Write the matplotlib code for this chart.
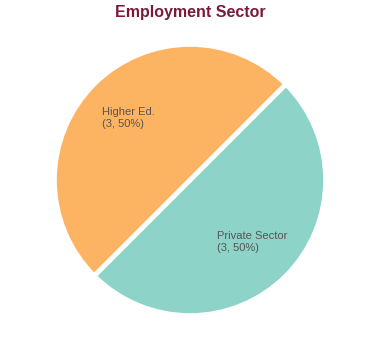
import numpy as np
import matplotlib
matplotlib.use("Agg")
import matplotlib.pyplot as plt

plt.rcParams['font.family'] = ['Liberation Sans', 'DejaVu Sans']

categories = ["Private Sector", "Higher Ed."]
counts = [3, 3]
colors = ["#8dd3c7", "#fdb462"]
title = "Employment Sector"

fig = plt.figure(figsize=(3.8, 3.6), dpi=100)
cx, cy, r = 190, 180, 134
W, H = 380, 360
ax = fig.add_axes([(cx - r) / W, (H - cy - r) / H, 2 * r / W, 2 * r / H])

wedges, _ = ax.pie(counts, colors=colors, startangle=45, counterclock=False,
                   radius=1.012, wedgeprops=dict(edgecolor="white", linewidth=3.5))
ax.set_xlim(-1, 1)
ax.set_ylim(-1, 1)

total = sum(counts)
for w, cat, c in zip(wedges, categories, counts):
    ang = np.deg2rad((w.theta1 + w.theta2) / 2)
    d = 0.655
    ax.text(d * np.cos(ang), d * np.sin(ang),
            f"{cat}\n({c}, {c / total * 100:.0f}%)",
            ha="center", va="center", multialignment="left",
            fontsize=8, color="#555555", linespacing=1.35)

fig.text(0.5, 1 - 12 / H, title, ha="center", va="center",
         fontsize=11.5, fontweight="bold", color="#7b1b3c")

fig.savefig("out.png", dpi=100)
